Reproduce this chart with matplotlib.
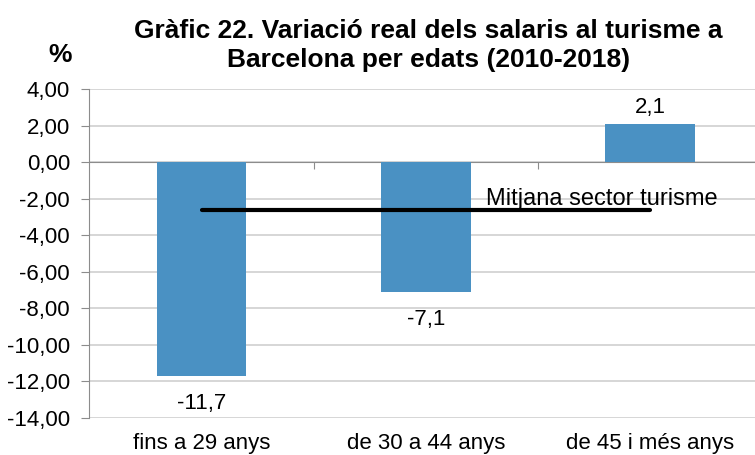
import matplotlib
matplotlib.use("Agg")
import matplotlib.pyplot as plt
from matplotlib.transforms import blended_transform_factory

plt.rcParams["font.family"] = ["Liberation Sans", "DejaVu Sans"]

# Données
categories = ["fins a 29 anys", "de 30 a 44 anys", "de 45 i més anys"]
variacio = [-11.7, -7.1, 2.1]
etiquetes = ["-11,7", "-7,1", "2,1"]
mitjana = -2.6
yticks = [4, 2, 0, -2, -4, -6, -8, -10, -12, -14]

fig = plt.figure(figsize=(7.55, 4.55), dpi=100)
ax = fig.add_axes([0.1185, 0.0813, 0.891, 0.723])

x = list(range(len(categories)))
ax.bar(x, variacio, width=0.4, color="#4a91c3", zorder=3)

# ligne de la moyenne
ax.plot([x[0], x[-1]], [mitjana, mitjana], color="black", lw=3,
        solid_capstyle="round", zorder=4)
ax.text(1.27, -2.0, "Mitjana sector turisme", fontsize=17,
        va="center", ha="left", zorder=5)

# étiquettes des barres
for xi, v, lab in zip(x, variacio, etiquetes):
    if v >= 0:
        ax.text(xi, v + 0.9, lab, ha="center", va="center", fontsize=16)
    else:
        ax.text(xi, v - 1.5, lab, ha="center", va="center", fontsize=16)

ax.set_xlim(-0.5, 2.5)
ax.set_ylim(-14, 4)
ax.set_yticks(yticks)
ax.set_yticklabels([f"{t:.2f}".replace(".", ",") for t in yticks], fontsize=16)
ax.grid(axis="y", color="#d0d0d0", lw=1.2, zorder=0)

ax.spines["top"].set_visible(False)
ax.spines["right"].set_visible(False)
ax.spines["left"].set_color("#8c8c8c")
ax.spines["bottom"].set_position(("data", 0))
ax.spines["bottom"].set_color("#8c8c8c")
ax.tick_params(axis="y", color="#8c8c8c", length=6, pad=8)
ax.set_xticks([0.5, 1.5])
ax.set_xticklabels([])
ax.tick_params(axis="x", color="#8c8c8c", length=5)

trans = blended_transform_factory(ax.transData, ax.transAxes)
for xi, cat in zip(x, categories):
    ax.text(xi, -0.076, cat, transform=trans, ha="center", va="center", fontsize=16)

fig.text(0.567, 0.9, "Gràfic 22. Variació real dels salaris al turisme a\nBarcelona per edats (2010-2018)",
         ha="center", va="center", fontsize=19, fontweight="bold", linespacing=1.25)
fig.text(0.079, 0.879, "%", ha="center", va="center", fontsize=19, fontweight="bold")

plt.savefig("out.png", dpi=100)
